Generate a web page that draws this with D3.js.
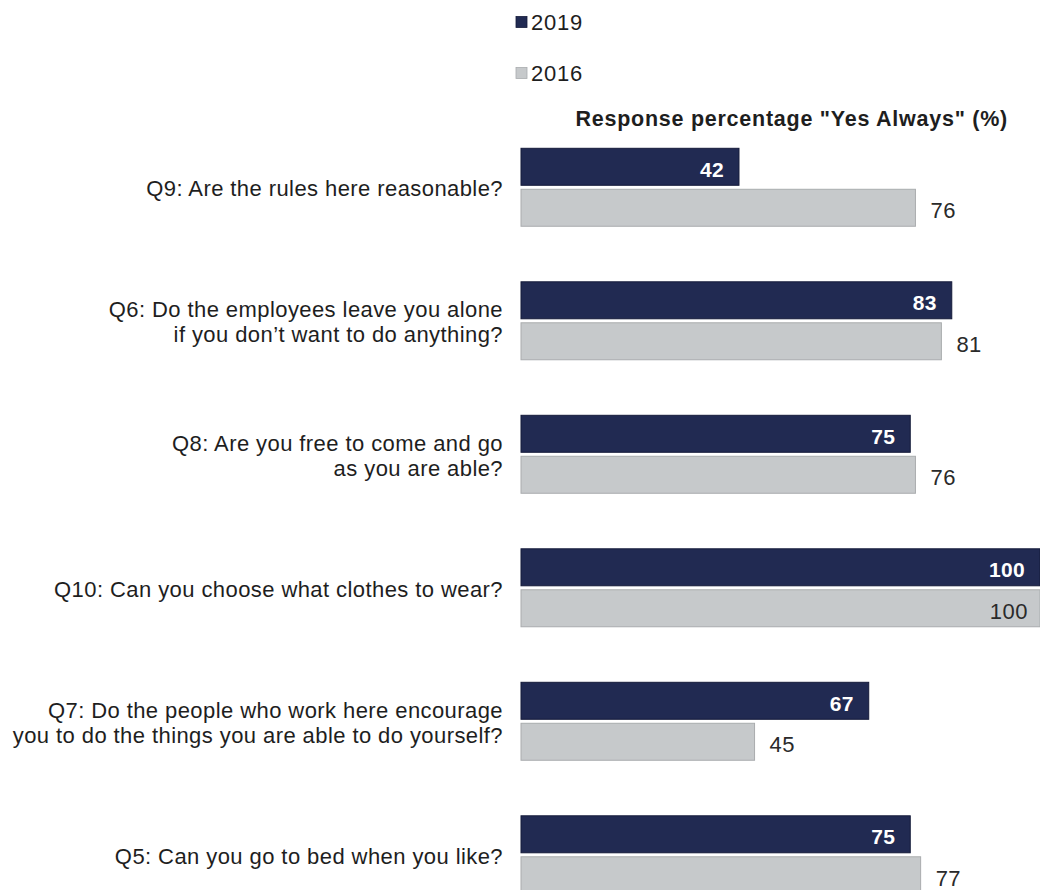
<!DOCTYPE html>
<html>
<head>
<meta charset="utf-8">
<script src="https://cdn.jsdelivr.net/npm/d3@7"></script>
<style>
  html, body { margin: 0; padding: 0; background: #fff; }
  svg { display: block; font-family: "Liberation Sans", Arial, sans-serif; }
</style>
</head>
<body>
<svg id="chart" width="1040" height="890"></svg>
<script>
// Survey questions, top to bottom; "\n" marks a line break in the label
const questions = [
  "Q9: Are the rules here reasonable?",
  "Q6: Do the employees leave you alone\nif you don\u2019t want to do anything?",
  "Q8: Are you free to come and go\nas you are able?",
  "Q10: Can you choose what clothes to wear?",
  "Q7: Do the people who work here encourage\nyou to do the things you are able to do yourself?",
  "Q5: Can you go to bed when you like?"
];
const years = ["2019", "2016"];
const values2019 = [42, 83, 75, 100, 67, 75];
const values2016 = [76, 81, 76, 100, 45, 77];
const axisTitle = "Response percentage \"Yes Always\" (%)";

const colors = { "2019": "#212a52", "2016": "#c6c9cb" };
const strokes = { "2019": "#151b3a", "2016": "#a9acae" };

const svg = d3.select("#chart");

const x = d3.scaleLinear().domain([0, 100]).range([521, 1040]);

const y = d3.scaleBand()
  .domain(questions)
  .range([148.3, 148.3 + 133.5 * (6 - 0.416)])
  .paddingInner(0.416)
  .paddingOuter(0);

const ySub = d3.scaleBand()
  .domain(years)
  .range([0, y.bandwidth()])
  .paddingInner(0.0976);

const rows = questions.map((q, i) => ({
  q,
  series: [
    { year: "2019", value: values2019[i] },
    { year: "2016", value: values2016[i] }
  ]
}));

// Legend
const legend = svg.append("g");
years.forEach((yr, i) => {
  const g = legend.append("g").attr("transform", `translate(516, ${22 + i * 51})`);
  g.append("rect")
    .attr("x", 0).attr("y", -5.5).attr("width", 11).attr("height", 11)
    .attr("fill", colors[yr]).attr("stroke", strokes[yr]).attr("stroke-width", 0.8);
  g.append("text")
    .attr("x", 15).attr("y", 0).attr("dy", "0.36em")
    .attr("font-size", 22).attr("letter-spacing", 0.8).attr("fill", "#1e1e1e")
    .text(yr);
});

// Axis title
svg.append("text")
  .attr("x", 1008).attr("y", 118).attr("dy", "0.36em")
  .attr("text-anchor", "end")
  .attr("font-size", 21.5).attr("letter-spacing", 0.75)
  .attr("font-weight", "bold").attr("fill", "#1e1e1e")
  .text(axisTitle);

// Category labels (left side)
const labels = svg.append("g");
rows.forEach(r => {
  const lines = r.q.split("\n");
  const cy = y(r.q) + y.bandwidth() / 2 + 1;
  const lh = 25;
  const t = labels.append("text")
    .attr("text-anchor", "end")
    .attr("font-size", 22).attr("letter-spacing", 0.42).attr("fill", "#1e1e1e");
  lines.forEach((ln, k) => {
    t.append("tspan")
      .attr("x", 503)
      .attr("y", cy + (k - (lines.length - 1) / 2) * lh)
      .attr("dy", "0.36em")
      .text(ln);
  });
});

// Bars
const groups = svg.append("g").selectAll("g")
  .data(rows).join("g")
  .attr("transform", d => `translate(0, ${y(d.q)})`);

groups.selectAll("rect")
  .data(d => d.series).join("rect")
  .attr("x", x(0))
  .attr("y", d => ySub(d.year))
  .attr("width", d => x(d.value) - x(0))
  .attr("height", ySub.bandwidth())
  .attr("fill", d => colors[d.year])
  .attr("stroke", d => strokes[d.year])
  .attr("stroke-width", 1);

// Value labels: 2019 inside the bar end (bold white), 2016 just past the bar end
groups.selectAll("text")
  .data(d => d.series).join("text")
  .attr("y", d => ySub(d.year) + ySub.bandwidth() / 2)
  .attr("dy", "0.48em")
  .each(function(d) {
    const t = d3.select(this);
    if (d.year === "2019") {
      t.attr("x", x(d.value) - 15).attr("text-anchor", "end")
        .attr("font-size", 21).attr("letter-spacing", 0.3)
        .attr("font-weight", "bold").attr("fill", "#ffffff");
    } else {
      const inside = x(d.value) + 50 > 1040;
      t.attr("x", inside ? x(d.value) - 12 : x(d.value) + 15)
        .attr("text-anchor", inside ? "end" : "start")
        .attr("font-size", 22).attr("letter-spacing", 0.5).attr("fill", "#2a2a2a");
    }
    t.text(d.value);
  });
</script>
</body>
</html>
